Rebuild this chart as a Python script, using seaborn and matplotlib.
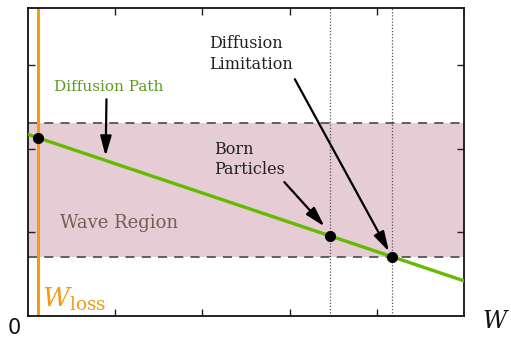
import matplotlib
matplotlib.use("Agg")
import matplotlib.pyplot as plt
import seaborn as sns
import pandas as pd

# Diffusion path (energy W vs. level), straight line across the window
path_w = [0.0, 5.0]
path_level = [2.17, 0.42]

# Wave region bounds
band_low = 0.70
band_high = 2.31

# Key energies
w_loss = 0.115
w_born = 3.46
w_limit = 4.18
marker_w = [w_loss, w_born, w_limit]
marker_level = [2.13, 0.956, 0.70]

x_ticks = [1, 2, 3, 4]
y_ticks = [1, 2, 3]

sns.set_theme(style="white")
plt.rcParams["font.family"] = ["DejaVu Serif", "DejaVu Sans"]
plt.rcParams["mathtext.fontset"] = "dejavuserif"

fig = plt.figure(figsize=(5.11, 3.38), dpi=100)
ax = fig.add_axes([0.0548, 0.0651, 0.8532, 0.911])

ax.set_xlim(0, 5)
ax.set_ylim(0, 3.68)

# shaded wave region with dashed bounds
ax.axhspan(band_low, band_high, color="#e6ccd4", zorder=0, lw=0)
for yb in (band_low, band_high):
    ax.axhline(yb, color="#555555", lw=1.3, ls=(0, (5, 4)), zorder=1)

# dotted guides at born-particle and limitation energies
for xv in (w_born, w_limit):
    ax.axvline(xv, color="#555555", lw=0.9, ls=(0, (1, 1.5)), zorder=1)

# loss energy
ax.axvline(w_loss, color="#f29b15", lw=2.2, zorder=2)

path_df = pd.DataFrame({"W": path_w, "level": path_level})
sns.lineplot(data=path_df, x="W", y="level", ax=ax, color="#66bb00", lw=2.4, zorder=3)

pts = pd.DataFrame({"W": marker_w, "level": marker_level})
sns.scatterplot(data=pts, x="W", y="level", ax=ax, color="black", s=55, edgecolor="black",
                zorder=4, legend=False)

ax.set_xticks(x_ticks)
ax.set_yticks(y_ticks)
ax.set_xticklabels([])
ax.set_yticklabels([])
ax.tick_params(direction="in", length=5, width=1, colors="#222222",
               top=True, right=True, bottom=True, left=True)
for s in ax.spines.values():
    s.set_color("#111111")
    s.set_linewidth(1.3)
ax.set_xlabel("")
ax.set_ylabel("")

arrow = dict(arrowstyle="-|>,head_length=1.0,head_width=0.28", color="black", lw=1.6,
             shrinkA=0, shrinkB=0)

ax.text(0.92, 2.74, "Diffusion Path", color="#5a9a1e", fontsize=11, ha="center", va="center")
ax.annotate("", xy=(0.89, 1.91), xytext=(0.9, 2.59), arrowprops=arrow)

ax.text(1.05, 1.11, "Wave Region", color="#7a5a55", fontsize=13, ha="center", va="center")

ax.text(2.14, 1.87, "Born\nParticles", color="#222222", fontsize=11.5, ha="left", va="center",
        linespacing=1.3)
ax.annotate("", xy=(3.4, 1.07), xytext=(2.94, 1.6), arrowprops=arrow)

ax.text(2.08, 3.13, "Diffusion\nLimitation", color="#222222", fontsize=11.5, ha="left", va="center",
        linespacing=1.3)
ax.annotate("", xy=(4.14, 0.77), xytext=(3.06, 2.83), arrowprops=arrow)

ax.text(w_loss + 0.05, 0.03, r"$W_{\rm loss}$", color="#f29b15", fontsize=19, ha="left", va="bottom")

fig.text(14 / 511, 1 - 328 / 338, "0", fontsize=15, family="DejaVu Sans", ha="center", va="center",
         color="#111111")
fig.text(496 / 511, 1 - 321 / 338, r"$W$", fontsize=17, ha="center", va="center", color="#111111")

fig.savefig("out.png", dpi=100)
